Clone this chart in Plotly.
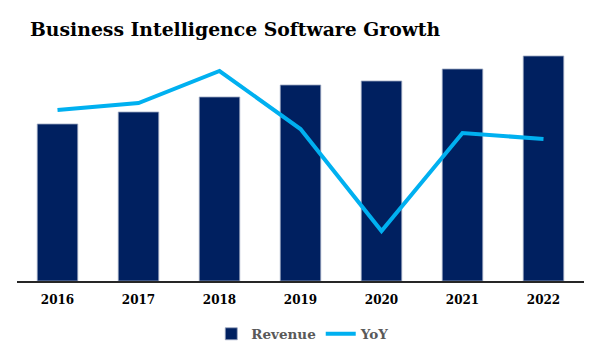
import plotly.graph_objects as go

years = ["2016", "2017", "2018", "2019", "2020", "2021", "2022"]
revenue = [15.7, 16.9, 18.4, 19.6, 20.0, 21.2, 22.5]
yoy = [8.55, 8.9, 10.5, 7.6, 2.5, 7.4, 7.1]

FONT = "DejaVu Serif"

fig = go.Figure()
fig.add_trace(go.Bar(
    x=years, y=revenue, name="<b>Revenue</b>",
    marker=dict(color="#002060", line=dict(color="#9aa6c0", width=0.8)),
    width=0.5,
))
fig.add_trace(go.Scatter(
    x=years, y=yoy, name="<b>YoY</b>", mode="lines", yaxis="y2",
    line=dict(color="#00B0F0", width=4),
))

fig.update_layout(
    width=600, height=360,
    margin=dict(l=9, r=24, t=23, b=87),
    paper_bgcolor="white", plot_bgcolor="white",
    title=dict(
        text="<b>Business Intelligence Software Growth</b>",
        font=dict(family=FONT, size=18.8, color="black"),
        x=22 / 600, xanchor="left", xref="container",
        y=1 - 21 / 360, yanchor="middle", yref="container",
    ),
    xaxis=dict(
        showgrid=False, showline=True, linecolor="#262626", linewidth=1.5,
        ticks="", tickfont=dict(family=FONT, size=12, color="black"),
        tickprefix="<b>", ticksuffix="</b>", ticklabelstandoff=7,
        range=[-0.5, 6.5],
    ),
    yaxis=dict(visible=False, range=[0, 25]),
    yaxis2=dict(visible=False, range=[0, 12.5], overlaying="y"),
    showlegend=True,
    legend=dict(
        orientation="h", x=0.504, xanchor="center", y=-0.15, yanchor="top",
        font=dict(family=FONT, size=13.5, color="#595959"),
        itemwidth=30,
    ),
    bargap=0.5,
)

fig.write_html("out.html")
